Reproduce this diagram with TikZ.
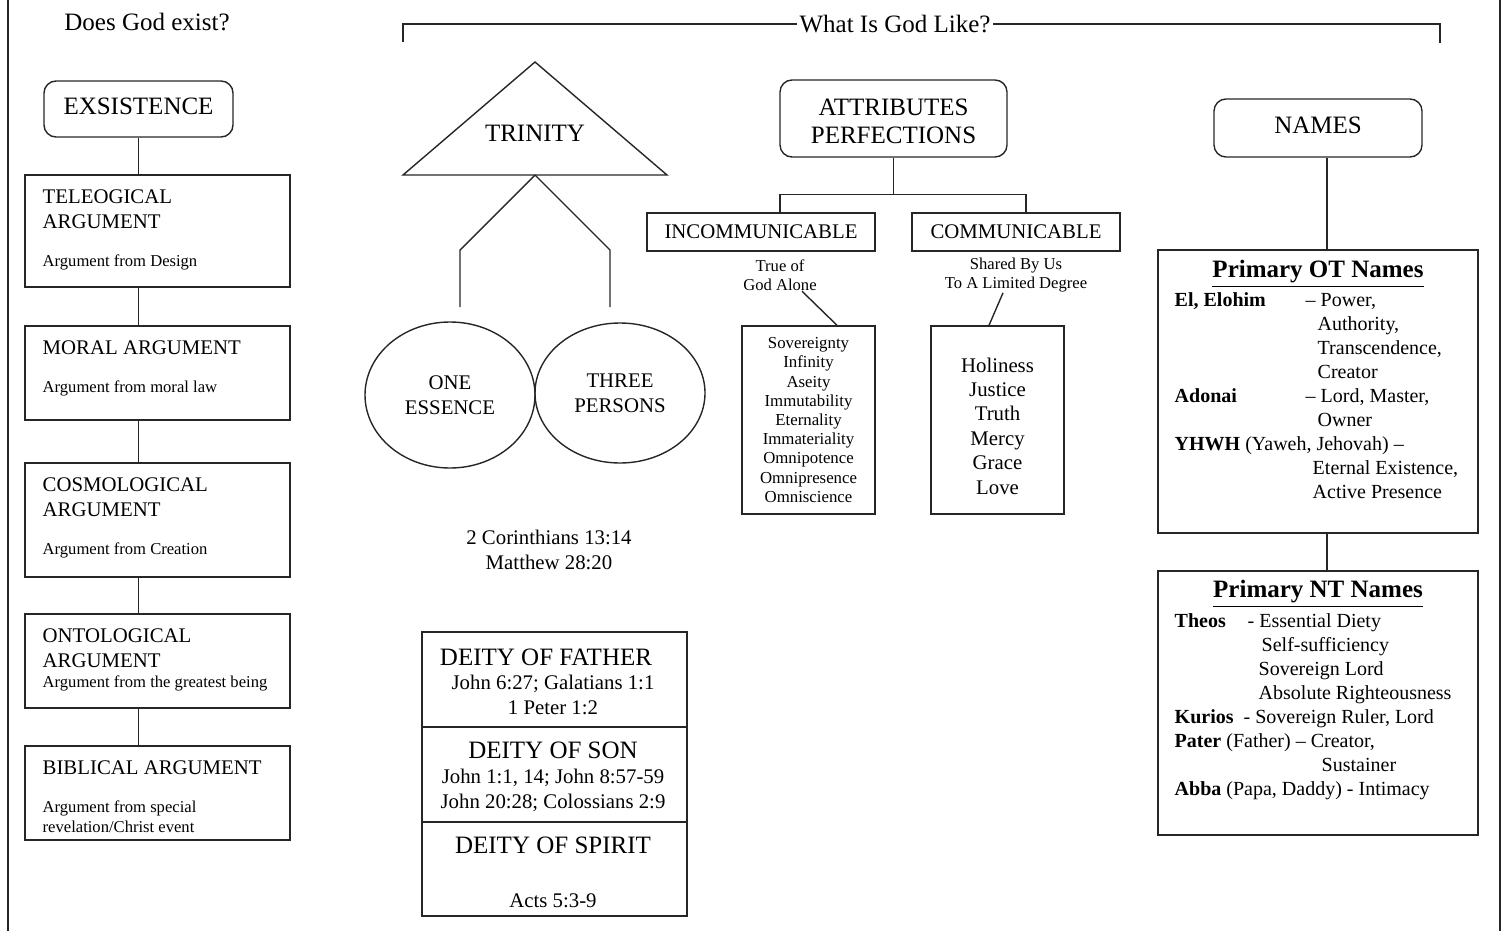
\documentclass[tikz,border=0pt]{standalone}
\usepackage{fontspec}
\setmainfont{Liberation Serif}
\usetikzlibrary{shapes.geometric,calc}

\begin{document}
\begin{tikzpicture}[x=0.5pt,y=-0.5pt,line width=0.7pt,draw=black!85,
  bigtxt/.style={font=\fontsize{12.5}{14}\selectfont},
  midtxt/.style={font=\fontsize{10.4}{12.5}\selectfont},
  smalltxt/.style={font=\fontsize{8.3}{9.6}\selectfont},
  namestxt/.style={font=\fontsize{10}{12}\selectfont},
  roundbox/.style={draw,rounded corners=6pt,inner sep=0pt},
  plainbox/.style={draw,inner sep=0pt},
  argbox/.style={plainbox,minimum width=132.5pt},
  lefttxt/.style={inner sep=0pt,anchor=base west},
  ctrtxt/.style={inner sep=0pt,anchor=base}]
\useasboundingbox (0,0) rectangle (1507,931);
\draw (8,0) -- (8,931);
\draw (1500,0) -- (1500,931);

\node[bigtxt,inner sep=0pt] (exists) at (147,22) {Does God exist?};
\node[bigtxt,inner sep=1pt] (like) at (895,24) {What Is God Like?};
\coordinate (bl) at (403,42);
\coordinate (br) at (1440,43);
\draw (like.west) -| (bl);
\draw (like.east) -| (br);

\node[roundbox,minimum width=94.5pt,minimum height=28pt] (exist) at (138.5,109) {};
\node[bigtxt,inner sep=0pt] (existtxt) at (138.5,106) {EXSISTENCE};
\node[argbox,minimum height=56pt] (tele) at (157.5,231) {};
\node[argbox,minimum height=47pt] (moral) at (157.5,373) {};
\node[argbox,minimum height=57pt] (cosmo) at (157.5,520) {};
\node[argbox,minimum height=47pt] (onto) at (157.5,661) {};
\node[argbox,minimum height=47pt] (bib) at (157.5,793) {};
\draw (exist.south) -- (exist.south |- tele.north);
\draw (exist.south |- tele.south) -- (exist.south |- moral.north);
\draw (exist.south |- moral.south) -- (exist.south |- cosmo.north);
\draw (exist.south |- cosmo.south) -- (exist.south |- onto.north);
\draw (exist.south |- onto.south) -- (exist.south |- bib.north);

\node[lefttxt,midtxt,align=left] (teletitle) at (42,228) {TELEOGICAL\\ARGUMENT};
\node[lefttxt,smalltxt] (telesub) at (42,266) {Argument from Design};
\node[lefttxt,midtxt] (moraltitle) at (42,354) {MORAL ARGUMENT};
\node[lefttxt,smalltxt] (moralsub) at (42,392) {Argument from moral law};
\node[lefttxt,midtxt,align=left] (cosmotitle) at (42,516) {COSMOLOGICAL\\ARGUMENT};
\node[lefttxt,smalltxt] (cosmosub) at (42,554) {Argument from Creation};
\node[lefttxt,midtxt,align=left] (ontotitle) at (42,667) {ONTOLOGICAL\\ARGUMENT};
\node[lefttxt,smalltxt] (ontosub) at (42,687) {Argument from the greatest being};
\node[lefttxt,midtxt] (bibtitle) at (42,774) {BIBLICAL ARGUMENT};
\node[lefttxt,smalltxt,align=left] (bibsub) at (42,832) {Argument from special\\revelation/Christ event};

\draw (535,62) -- (667,175) -- (403,175) -- cycle;
\node[bigtxt,inner sep=0pt] (trinity) at (535,133) {TRINITY};
\coordinate (trifoot) at (535,175);
\coordinate (essup) at (460,307);
\coordinate (perup) at (610,307);
\draw (trifoot) -- ++(-75,75) -- (essup);
\draw (trifoot) -- ++(75,75) -- (perup);
\node[draw,ellipse,inner sep=0pt,minimum width=85pt,minimum height=73pt,midtxt,align=center] (essence) at (450,395) {ONE\\ESSENCE};
\node[draw,ellipse,inner sep=0pt,minimum width=85pt,minimum height=70pt,midtxt,align=center] (persons) at (620,393) {THREE\\PERSONS};
\node[midtxt,align=center,inner sep=0pt] (refs) at (549,550) {2 Corinthians 13:14\\Matthew 28:20};

\node[plainbox,minimum width=132.5pt,minimum height=47.5pt] (father) at (554.5,679.5) {};
\node[plainbox,minimum width=132.5pt,minimum height=47.5pt] (son) at (554.5,774.5) {};
\node[plainbox,minimum width=132.5pt,minimum height=47pt] (spirit) at (554.5,869) {};
\node[ctrtxt,bigtxt] (fathhead) at (546,665) {DEITY OF FATHER};
\node[ctrtxt,midtxt,align=center] (fathref) at (553,714) {John 6:27; Galatians 1:1\\1 Peter 1:2};
\node[ctrtxt,bigtxt] (sonhead) at (553,758) {DEITY OF SON};
\node[ctrtxt,midtxt,align=center] (sonref) at (553,808) {John 1:1, 14; John 8:57-59\\John 20:28; Colossians 2:9};
\node[ctrtxt,bigtxt] (spirhead) at (553,853) {DEITY OF SPIRIT};
\node[ctrtxt,midtxt] (spirref) at (553,907) {Acts 5:3-9};

\node[roundbox,minimum width=113.5pt,minimum height=38.5pt] (attr) at (893.5,118.5) {};
\node[bigtxt,align=center,inner sep=0pt] (attrtxt) at (893.5,121) {ATTRIBUTES\\PERFECTIONS};
\node[plainbox,midtxt,minimum width=114pt,minimum height=19pt] (incom) at (761,232) {INCOMMUNICABLE};
\node[plainbox,midtxt,minimum width=104pt,minimum height=19pt] (com) at (1016,232) {COMMUNICABLE};
\draw (attr.south) -- ++(0,37) coordinate (split);
\draw ($(incom.north)+(19,0)$) |- (split) -| ($(com.north)+(10,0)$);
\node[smalltxt,align=center,inner sep=0pt] (incnote) at (780,275) {True of\\God Alone};
\node[smalltxt,align=center,inner sep=0pt] (comnote) at (1016,275) {Shared By Us\\To A Limited Degree};
\node[plainbox,minimum width=66.5pt,minimum height=94pt,align=center,font=\fontsize{8.4}{9.6}\selectfont] (incbox) at (808.5,420) {Sovereignty\\Infinity\\Aseity\\Immutability\\Eternality\\Immateriality\\Omnipotence\\Omnipresence\\Omniscience};
\node[plainbox,minimum width=66.5pt,minimum height=94pt] (combox) at (997.5,420) {};
\node[align=center,inner sep=0pt,font=\fontsize{10.4}{12.2}\selectfont] (comlist) at (997.5,426) {Holiness\\Justice\\Truth\\Mercy\\Grace\\Love};
\draw ($(incnote.south)+(22,0)$) -- ($(incbox.north)+(28.5,0)$);
\draw ($(comnote.south)+(-13,0)$) -- ($(combox.north)+(-8.5,0)$);

\node[roundbox,minimum width=104pt,minimum height=29pt] (names) at (1318,128) {};
\node[bigtxt,inner sep=0pt] (namestxt) at (1318,125) {NAMES};
\node[plainbox,minimum width=160pt,minimum height=141.5pt] (otbox) at (1318,391.5) {};
\node[plainbox,minimum width=160pt,minimum height=132pt] (ntbox) at (1318,703) {};
\draw ($(names.south)+(9,0)$) -- ($(otbox.north)+(9,0)$);
\draw ($(otbox.south)+(9,0)$) -- ($(ntbox.north)+(9,0)$);
\node[bigtxt,inner sep=0pt] (othead) at (1318,274) {\textbf{\underline{Primary OT Names}}};
\node[lefttxt,namestxt,align=left] (otlist) at (1174,498.5) {\makebox[65.5pt][l]{\textbf{El, Elohim}}– Power,\\
\hspace*{71.5pt}Authority,\\
\hspace*{71.5pt}Transcendence,\\
\hspace*{71.5pt}Creator\\
\makebox[65.5pt][l]{\textbf{Adonai}}– Lord, Master,\\
\hspace*{71.5pt}Owner\\
\textbf{YHWH} (Yaweh, Jehovah) –\\
\hspace*{69pt}Eternal Existence,\\
\hspace*{69pt}Active Presence};
\node[bigtxt,inner sep=0pt] (nthead) at (1318,594) {\textbf{\underline{Primary NT Names}}};
\node[lefttxt,namestxt,align=left] (ntlist) at (1174,795) {\makebox[36.5pt][l]{\textbf{Theos}}- Essential Diety\\
\hspace*{43.5pt}Self-sufficiency\\
\hspace*{42pt}Sovereign Lord\\
\hspace*{42pt}Absolute Righteousness\\
\textbf{Kurios}\ \ - Sovereign Ruler, Lord\\
\textbf{Pater} (Father) – Creator,\\
\hspace*{73.5pt}Sustainer\\
\textbf{Abba} (Papa, Daddy) - Intimacy};
\end{tikzpicture}
\end{document}
